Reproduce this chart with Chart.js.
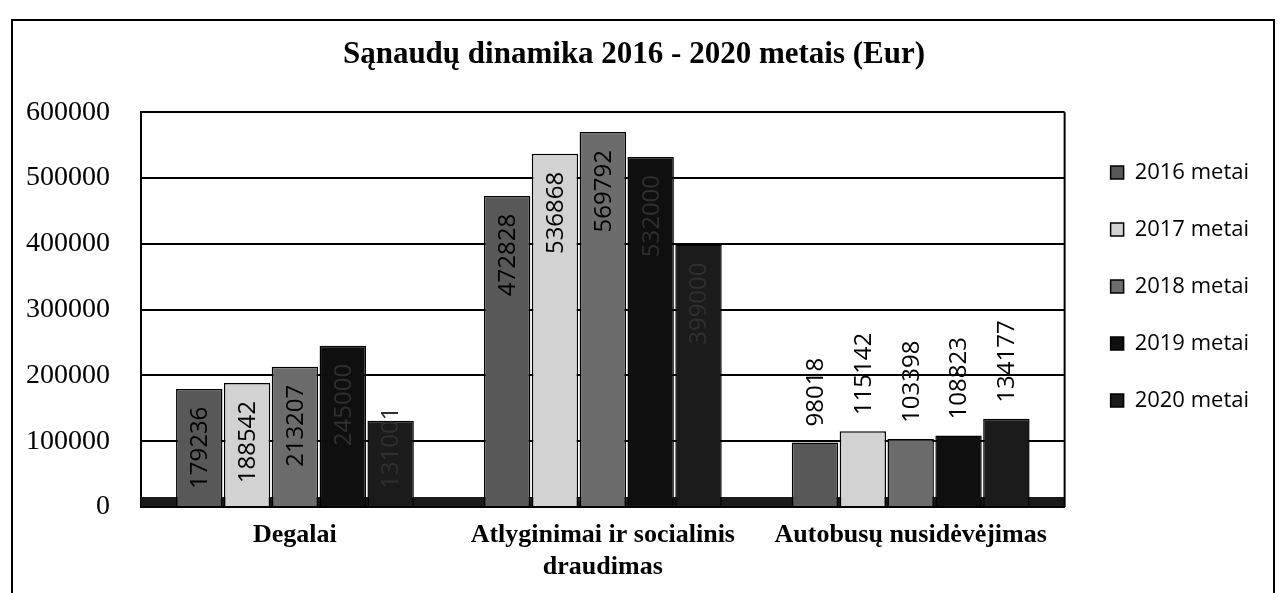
<!DOCTYPE html>
<html lang="lt">
<head>
<meta charset="utf-8">
<title>Sąnaudų dinamika 2016 - 2020 metais</title>
<script src="https://cdn.jsdelivr.net/npm/chart.js@4.4.1/dist/chart.umd.min.js"></script>
<style>
    html, body { margin: 0; padding: 0; background: #fff; overflow: hidden; }
    #wrap { position: relative; width: 1287px; height: 593px; }
    #chartSanaudos { position: absolute; left: 0; top: 0; }
    #frame { position: absolute; left: 11px; top: 19px; width: 1260px; height: 600px; border: 2px solid #000; pointer-events: none; }
</style>
</head>
<body>
<div id="wrap">
    <canvas id="chartSanaudos" width="1287" height="593"></canvas>
    <div id="frame"></div>
</div>
<script>
/*Chart data*/
var categories = [['Degalai'], ['Atlyginimai ir socialinis', 'draudimas'], ['Autobusų nusidėvėjimas']];
var seriesNames = ['2016 metai', '2017 metai', '2018 metai', '2019 metai', '2020 metai'];
var values2016 = [179236, 472828, 98018];
var values2017 = [188542, 536868, 115142];
var values2018 = [213207, 569792, 103398];
var values2019 = [245000, 532000, 108823];
var values2020 = [131001, 399000, 134177];
var yTickLabels = ['0', '100000', '200000', '300000', '400000', '500000', '600000'];

/*Styles*/
var barColors = ['#585858', '#d2d2d2', '#6c6c6c', '#0f0f0f', '#1b1b1b'];
var labelColors = ['#000000', '#000000', '#000000', '#303030', '#303030'];
var labelInside = [true, true, false];

/*Back wall, floor*/
var wallPlugin = {
    id: 'wall',
    beforeDatasetsDraw: function (chart) {
        var ctx = chart.ctx;
        var a = chart.chartArea;
        ctx.save();
        ctx.fillStyle = '#1a1a1a';
        ctx.fillRect(a.left, a.bottom - 10, a.right - a.left, 10);
        ctx.strokeStyle = '#000';
        ctx.lineWidth = 2;
        ctx.beginPath();
        ctx.moveTo(a.right, a.top);
        ctx.lineTo(a.right, a.bottom);
        ctx.moveTo(a.left, a.bottom);
        ctx.lineTo(a.right, a.bottom);
        ctx.stroke();
        ctx.restore();
    }
};

/*Data labels, rotated*/
var valueLabelPlugin = {
    id: 'valueLabels',
    afterDatasetsDraw: function (chart) {
        var ctx = chart.ctx;
        ctx.save();
        ctx.font = '24px "Open Sans", sans-serif';
        ctx.textBaseline = 'middle';
        chart.data.datasets.forEach(function (ds, di) {
            var meta = chart.getDatasetMeta(di);
            meta.data.forEach(function (bar, i) {
                var text = String(ds.data[i]);
                var len = ctx.measureText(text).width;
                ctx.save();
                ctx.translate(bar.x, bar.y);
                ctx.rotate(-Math.PI / 2);
                if (labelInside[i]) {
                    // end of text 18px below the top, pushed up when the bar is too short
                    var end = 18;
                    var h = bar.base - bar.y;
                    if (end + len > h - 17) {
                        end = h - 17 - len;
                    }
                    ctx.textAlign = 'right';
                    ctx.fillStyle = labelColors[di];
                    ctx.fillText(text, -end, 1);
                } else {
                    ctx.textAlign = 'left';
                    ctx.fillStyle = '#000';
                    ctx.fillText(text, 16, 1);
                }
                ctx.restore();
            });
        });
        ctx.restore();
    }
};

/*Nudge legend to its place*/
var legendShift = {
    id: 'legendShift',
    afterLayout: function (chart) {
        var l = chart.legend;
        l.top -= 15;
        l.bottom -= 15;
        l.left += 11;
        l.right += 11;
    }
};

function DrawSanaudosChart() {
    var allValues = [values2016, values2017, values2018, values2019, values2020];
    var datasets = [];
    for (var i = 0; i < seriesNames.length; i++) {
        datasets.push({
            label: seriesNames[i],
            data: allValues[i],
            backgroundColor: barColors[i],
            borderColor: '#000',
            borderWidth: 1.5,
            categoryPercentage: 0.777,
            barPercentage: 0.97
        });
    }
    var myChart = new Chart(document.getElementById('chartSanaudos'), {
        type: 'bar',
        data: {
            labels: categories,
            datasets: datasets
        },
        plugins: [wallPlugin, valueLabelPlugin, legendShift],
        options: {
            responsive: false,
            animation: false,
            layout: {
                padding: { left: 20, right: 39, top: 20, bottom: 10 }
            },
            plugins: {
                title: {
                    display: true,
                    text: 'Sąnaudų dinamika 2016 - 2020 metais (Eur)',
                    color: '#000',
                    font: { family: '"Liberation Serif", "Times New Roman", serif', size: 31, weight: 'bold', lineHeight: 1.2 },
                    padding: { top: 16, bottom: 39 }
                },
                legend: {
                    display: true,
                    position: 'right',
                    align: 'center',
                    labels: {
                        boxWidth: 13,
                        boxHeight: 13,
                        padding: 35,
                        color: '#000',
                        font: { family: '"Open Sans", sans-serif', size: 22, lineHeight: 1.2 }
                    }
                },
                tooltip: { enabled: false }
            },
            scales: {
                x: {
                    grid: { display: false, drawTicks: false },
                    border: { display: false },
                    afterFit: function (scale) {
                        scale.height = 76;
                    },
                    ticks: {
                        color: '#000',
                        padding: 12,
                        maxRotation: 0,
                        autoSkip: false,
                        font: { family: '"Liberation Serif", "Times New Roman", serif', size: 26, weight: 'bold', lineHeight: 1.23 }
                    }
                },
                y: {
                    min: 0,
                    max: 600000,
                    grid: { color: '#000', lineWidth: 2, drawTicks: false },
                    border: { display: true, color: '#000', width: 2 },
                    afterFit: function (scale) {
                        scale.width = 121;
                    },
                    ticks: {
                        stepSize: 100000,
                        color: '#000',
                        padding: 31,
                        font: { family: '"Liberation Serif", "Times New Roman", serif', size: 28 },
                        callback: function (value, index) {
                            return yTickLabels[index];
                        }
                    }
                }
            }
        }
    });
}

DrawSanaudosChart();
</script>
</body>
</html>
